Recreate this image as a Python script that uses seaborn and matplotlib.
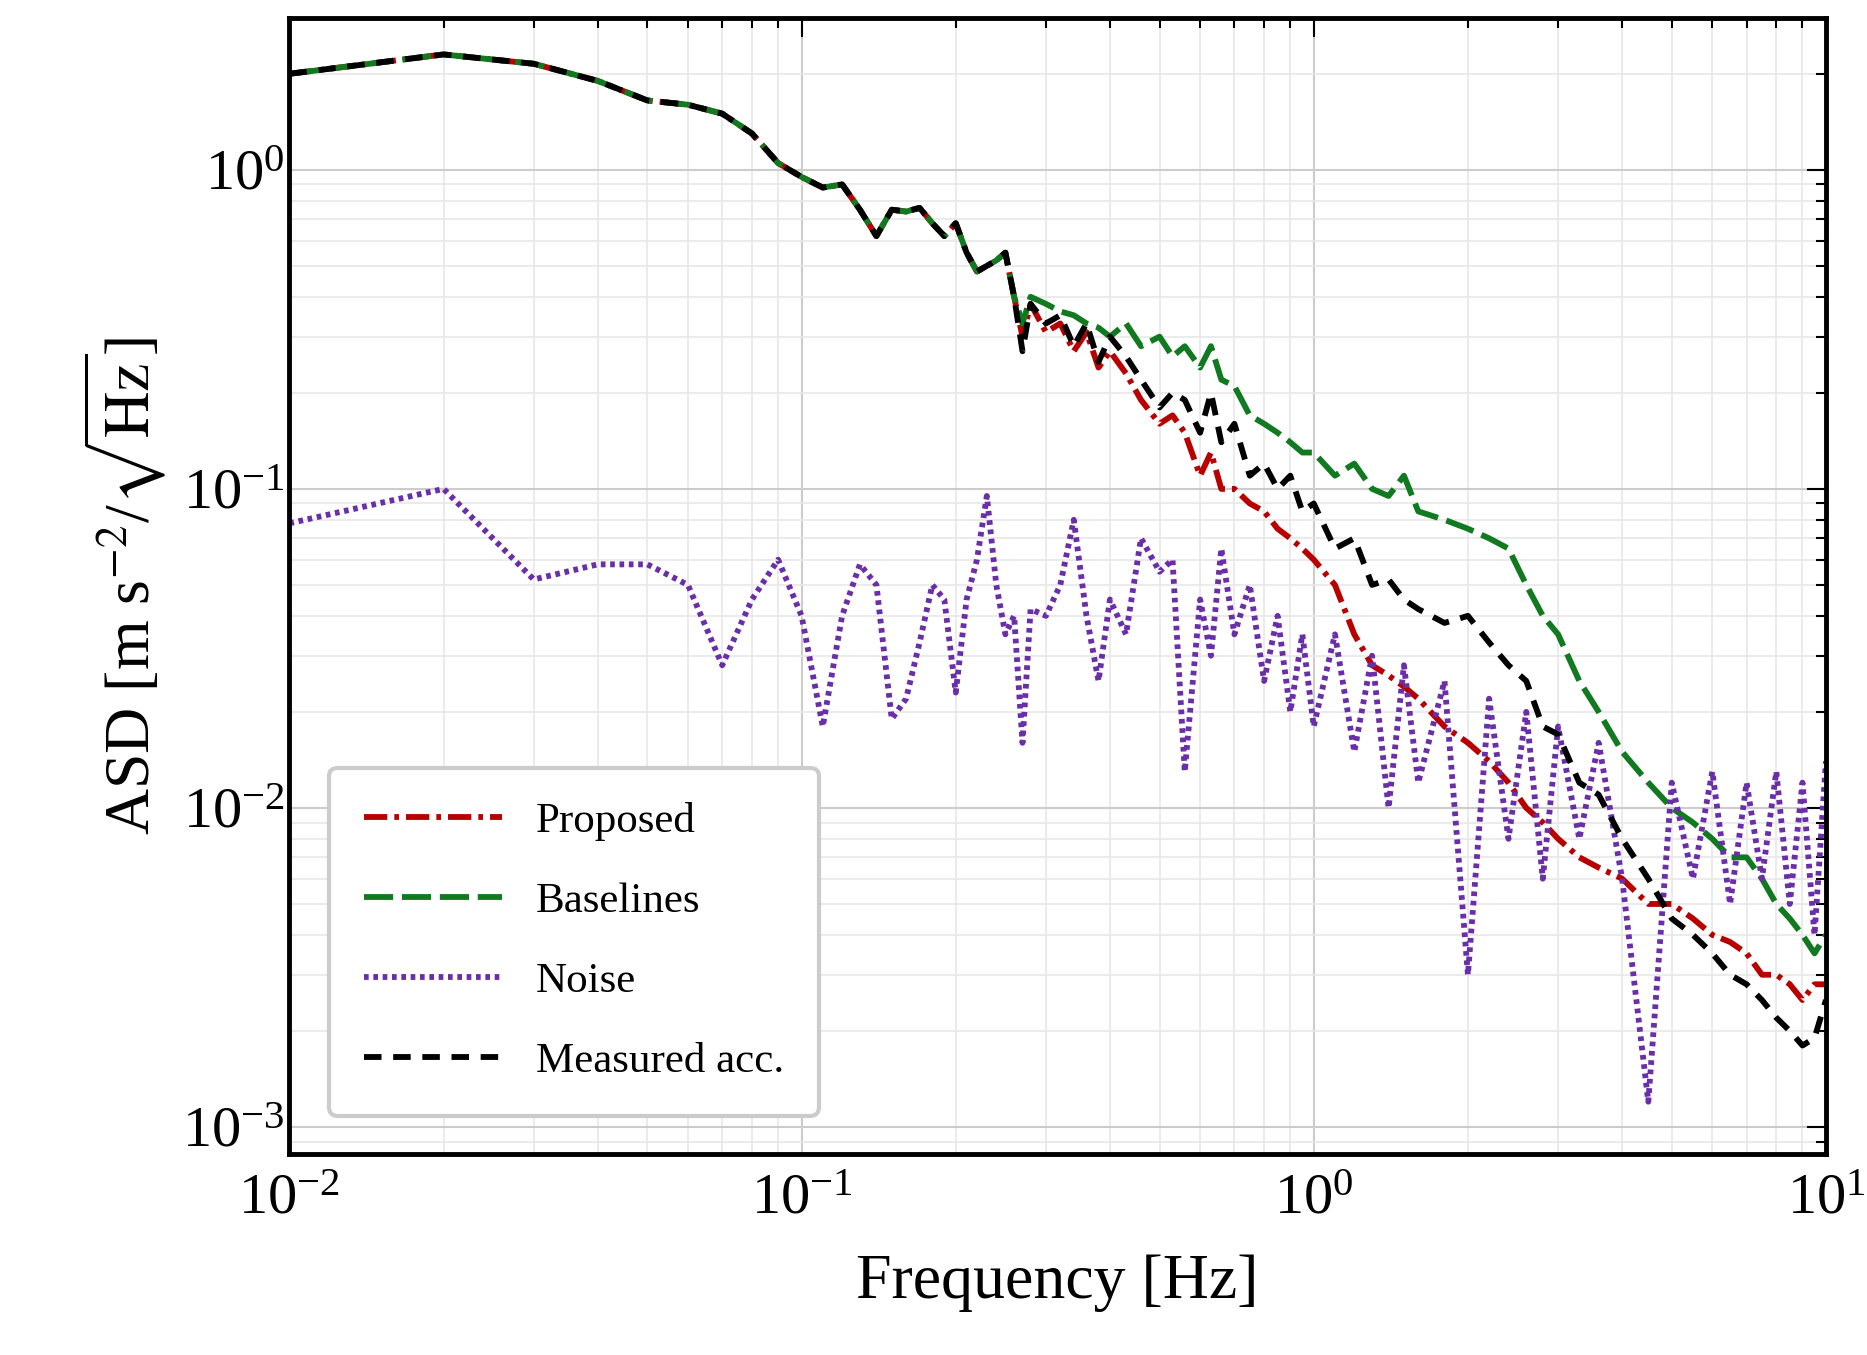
import matplotlib
matplotlib.use("Agg")
import matplotlib.pyplot as plt
import seaborn as sns
import pandas as pd
from matplotlib.ticker import LogLocator, NullFormatter

freq = [0.01,0.02,0.03,0.04,0.05,0.06,0.07,0.08,0.09,0.10,0.11,0.12,0.13,0.14,0.15,0.16,0.17,0.18,0.19,0.20,
        0.21,0.22,0.23,0.24,0.25,0.26,0.27,0.28,0.30,0.32,0.34,0.36,0.38,0.40,0.43,0.46,0.50,0.53,0.56,0.60,
        0.63,0.66,0.70,0.75,0.80,0.85,0.90,0.95,1.0,1.1,1.2,1.3,1.4,1.5,1.6,1.8,2.0,2.2,2.4,2.6,2.8,3.0,3.3,
        3.6,4.0,4.5,5.0,5.5,6.0,6.5,7.0,7.5,8.0,8.5,9.0,9.5,10.0]

low = [2.0,2.3,2.15,1.9,1.65,1.6,1.5,1.3,1.05,0.95,0.88,0.9,0.75,0.62,0.75,0.74,0.76,0.68,0.62,0.68,
       0.55,0.48,0.50,0.52,0.55,0.40,0.27,0.38]

measured = low + [0.33,0.35,0.28,0.33,0.25,0.30,0.26,0.22,0.18,0.20,0.19,0.15,0.20,0.14,0.16,0.11,0.12,0.10,0.11,0.085,
                  0.09,0.065,0.07,0.05,0.052,0.045,0.042,0.038,0.04,0.033,0.028,0.025,0.018,0.017,0.012,0.011,0.008,0.006,
                  0.0045,0.004,0.0035,0.003,0.0028,0.0025,0.0022,0.002,0.0018,0.0019,0.0025]
proposed = low[:-2] + [0.30,0.38] + [0.31,0.33,0.27,0.31,0.24,0.27,0.23,0.19,0.16,0.17,0.15,0.11,0.13,0.10,0.10,0.09,0.085,0.075,0.07,0.065,
                  0.06,0.05,0.035,0.028,0.026,0.024,0.022,0.018,0.016,0.014,0.012,0.010,0.009,0.008,0.007,0.0065,0.006,0.005,
                  0.005,0.0045,0.004,0.0038,0.0035,0.003,0.003,0.0028,0.0025,0.0028,0.0028]
baselines = low[:-2] + [0.33,0.40] + [0.38,0.36,0.35,0.33,0.32,0.30,0.33,0.28,0.30,0.26,0.28,0.24,0.28,0.22,0.21,0.17,0.16,0.15,0.14,0.13,
                  0.13,0.11,0.12,0.10,0.095,0.11,0.085,0.08,0.075,0.07,0.065,0.05,0.04,0.035,0.025,0.02,0.015,0.012,
                  0.010,0.009,0.008,0.007,0.007,0.006,0.005,0.0045,0.004,0.0035,0.004]
noise = [0.078,0.10,0.052,0.058,0.058,0.05,0.028,0.045,0.06,0.04,0.018,0.04,0.058,0.05,0.019,0.022,0.033,0.05,0.045,0.023,
         0.045,0.06,0.095,0.05,0.035,0.04,0.016,0.042,0.04,0.05,0.08,0.04,0.025,0.045,0.035,0.07,0.055,0.06,0.013,0.045,
         0.03,0.065,0.035,0.05,0.025,0.04,0.02,0.035,0.018,0.035,0.015,0.03,0.01,0.028,0.012,0.025,0.003,0.022,0.008,0.02,
         0.006,0.018,0.008,0.016,0.006,0.0012,0.012,0.006,0.013,0.005,0.012,0.006,0.013,0.005,0.012,0.004,0.014]

labels = ["Proposed", "Baselines", "Noise", "Measured acc."]
series = [proposed, baselines, noise, measured]
colors = ["#b80000", "#117a20", "#6a2fa8", "#000000"]
dashes = [(4, 1.2, 0.8, 1.2), (5, 1.5), (0.8, 0.8), (3, 2)]

sns.set_style("white")
plt.rcParams['font.family'] = ['Liberation Serif', 'DejaVu Serif']
plt.rcParams['mathtext.fontset'] = 'stix'
plt.rcParams['text.color'] = 'black'
plt.rcParams['axes.labelcolor'] = 'black'
plt.rcParams['xtick.color'] = 'black'
plt.rcParams['ytick.color'] = 'black'

fig = plt.figure(figsize=(18.67, 13.55), dpi=100)
ax = fig.add_axes([0.155, 0.148, 0.823, 0.839])
for lab, s, c, d in zip(labels, series, colors, dashes):
    df = pd.DataFrame({"f": freq, "v": s})
    sns.lineplot(data=df, x="f", y="v", ax=ax, color=c, lw=4.2, label=lab)
    ax.lines[-1].set_dashes(d)
ax.set_xscale("log"); ax.set_yscale("log")
ax.set_xlim(0.01, 10); ax.set_ylim(0.00082, 3.0)
ax.yaxis.set_minor_locator(LogLocator(subs=range(2, 10)))
ax.yaxis.set_minor_formatter(NullFormatter())
ax.xaxis.set_minor_locator(LogLocator(subs=range(2, 10)))
ax.xaxis.set_minor_formatter(NullFormatter())
ax.grid(True, which="major", color="#cccccc", lw=1.5)
ax.grid(True, which="minor", color="#e8e8e8", lw=1.2)
ax.tick_params(which="both", direction="in", top=True, right=True, labelsize=42, width=1.5, colors="black")
ax.tick_params(which="major", length=14)
ax.tick_params(which="minor", length=7)
ax.tick_params(axis="x", pad=14)
for sp in ax.spines.values():
    sp.set_linewidth(3.5); sp.set_color("black")
ax.set_xlabel("Frequency [Hz]", fontsize=46, labelpad=20)
ax.set_ylabel(r"ASD [m s$^{-2}$/$\sqrt{\mathrm{Hz}}$]", fontsize=46, labelpad=10)
leg = ax.legend(loc="lower left", fontsize=31, handlelength=3.2, labelspacing=0.95,
                borderpad=0.8, fancybox=True, framealpha=1, edgecolor="#cccccc",
                bbox_to_anchor=(0.012, 0.015))
leg.get_frame().set_linewidth(3)
fig.savefig("out.png", dpi=100)
